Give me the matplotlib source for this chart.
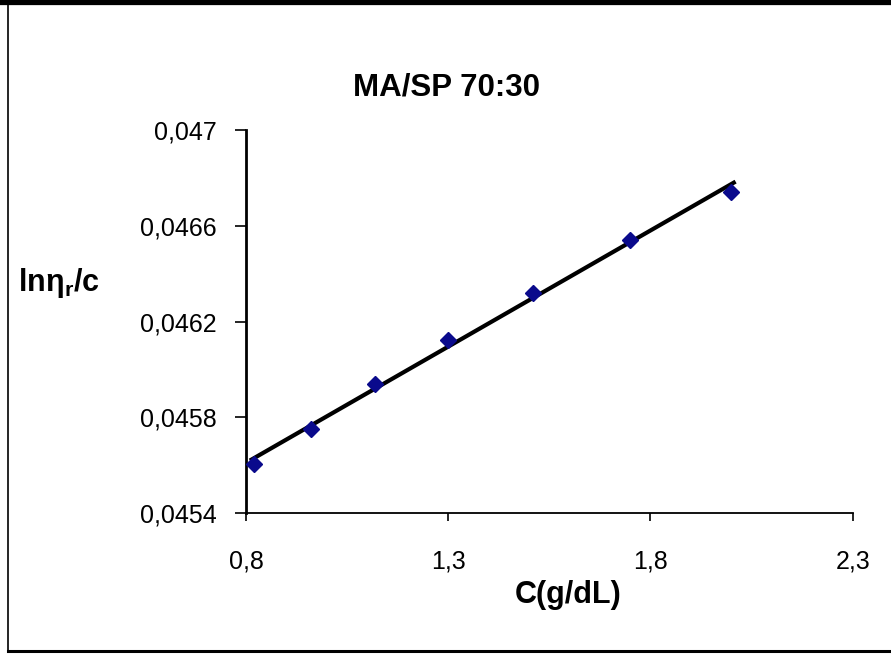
import numpy as np
import matplotlib
matplotlib.use('Agg')
import matplotlib.pyplot as plt
from matplotlib.lines import Line2D

plt.rcParams['font.family'] = ['Liberation Sans', 'DejaVu Sans']

# data
conc = [0.82, 0.96, 1.12, 1.30, 1.51, 1.75, 2.00]
inh_visc = [0.045603, 0.045751, 0.045939, 0.046121, 0.046318, 0.046540, 0.046743]

x_ticks = [0.8, 1.3, 1.8, 2.3]
x_tick_labels = ['0,8', '1,3', '1,8', '2,3']
y_ticks = [0.0454, 0.0458, 0.0462, 0.0466, 0.047]
y_tick_labels = ['0,0454', '0,0458', '0,0462', '0,0466', '0,047']

fig = plt.figure(figsize=(8.91, 6.55), dpi=100)
ax = fig.add_axes([0.2761, 0.2168, 0.957 - 0.2761, 0.8015 - 0.2168])

# linear trendline
slope, icpt = np.polyfit(conc, inh_visc, 1)
xs = np.array([min(conc) - 0.006, max(conc) + 0.006])
ax.plot(xs, slope * xs + icpt, color='black', lw=3.0, zorder=2)
ax.plot(conc, inh_visc, linestyle='none', marker='D', ms=8, color='#0a0a8c',
        markeredgecolor='#0a0a8c', zorder=3)

ax.set_xlim(0.8, 2.3)
ax.set_ylim(0.0454, 0.047)
ax.set_xticks(x_ticks)
ax.set_xticklabels(x_tick_labels, fontsize=18)
ax.set_yticks(y_ticks)
ax.set_yticklabels(y_tick_labels, fontsize=18)
ax.tick_params(axis='x', direction='out', length=6, width=1.2, pad=20)
ax.tick_params(axis='y', direction='out', length=8, width=1.2, pad=13)

for s in ['top', 'right']:
    ax.spines[s].set_visible(False)
ax.spines['left'].set_linewidth(2)
ax.spines['bottom'].set_linewidth(1.3)

fig.text(0.5006, 0.866, 'MA/SP 70:30', ha='center', va='center',
         fontsize=22.5, fontweight='bold')
fig.text(0.6375, 0.092, 'C(g/dL)', ha='center', va='center',
         fontsize=22, fontweight='bold')
fig.text(0.02, 0.568, 'lnη$_\\mathregular{r}$/c', ha='left', va='center',
         fontsize=22, fontweight='bold')

# outer frame of the original picture
fig.add_artist(Line2D([0, 1], [0.997, 0.997], color='black', lw=4.5,
                      transform=fig.transFigure))
fig.add_artist(Line2D([0.009, 0.009], [0.005, 0.997], color='black', lw=1.2,
                      transform=fig.transFigure))
fig.add_artist(Line2D([0.009, 1], [0.006, 0.006], color='black', lw=2.2,
                      transform=fig.transFigure))

fig.savefig('out.png', dpi=100)
